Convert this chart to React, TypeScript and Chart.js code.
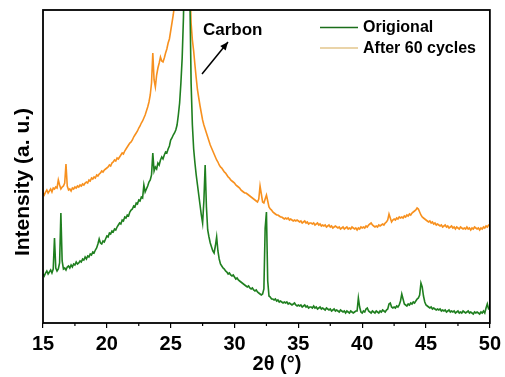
import React, { useEffect, useRef } from "react";
import { Chart, registerables } from "chart.js";

Chart.register(...registerables);

// 2θ sampling grid (degrees)
const angleStart = 15;
const angleStep = 0.1;
const angleCount = 351;

// Intensity (a.u.) — "Origional"
const originalIntensity = [
  49, 47, 50, 52, 49, 51, 53, 50, 54, 85,
  55, 52, 54, 60, 110, 62, 54, 55, 53, 56,
  57, 55, 58, 56, 59, 58, 61, 59, 60, 62,
  61, 64, 63, 66, 64, 67, 66, 69, 68, 71,
  70, 73, 75, 79, 84, 80, 79, 82, 81, 84,
  87, 86, 90, 89, 92, 91, 94, 93, 96, 98,
  100, 99, 103, 102, 106, 105, 108, 107, 111, 113,
  114, 117, 116, 120, 119, 123, 122, 126, 125, 138,
  131, 134, 137, 141, 143, 148, 170, 152, 156, 154,
  160, 158, 163, 166, 164, 168, 171, 170, 174, 177,
  183, 185, 188, 190, 193, 198, 208, 220, 240, 265,
  305, 370, 420, 440, 410, 330, 240, 198, 174, 160,
  148, 138, 128, 118, 108, 100, 122, 158, 116, 93,
  86, 80, 76, 72, 70, 77, 86, 72, 64, 59,
  57, 55, 54, 52, 51, 49, 50, 48, 47, 48,
  46, 44, 45, 43, 42, 41, 40, 39, 38, 37,
  36, 37, 35, 34, 35, 33, 32, 33, 31, 30,
  29, 28, 29, 34, 95, 111, 42, 27, 26, 24,
  24, 23, 24, 22, 23, 21, 22, 21, 20, 21,
  20, 21, 19, 20, 19, 18, 19, 20, 18, 17,
  18, 17, 18, 16, 17, 18, 16, 17, 15, 16,
  16, 15, 17, 15, 16, 14, 15, 16, 14, 15,
  14, 13, 15, 14, 13, 14, 12, 13, 14, 12,
  13, 12, 11, 13, 12, 11, 12, 10, 12, 11,
  10, 12, 11, 10, 11, 12, 12, 25, 16, 11,
  10, 12, 11, 14, 15, 12, 11, 10, 12, 11,
  10, 12, 11, 10, 12, 11, 13, 12, 11, 13,
  14, 19, 20, 16, 15, 16, 15, 17, 16, 18,
  22, 29, 24, 19, 18, 17, 19, 18, 20, 19,
  21, 20, 22, 24, 25, 28, 40, 36, 27, 21,
  18, 17, 16, 15, 16, 14, 15, 14, 13, 14,
  13, 14, 12, 13, 12, 13, 11, 12, 13, 11,
  12, 11, 12, 10, 11, 12, 10, 11, 10, 12,
  11, 10, 11, 12, 10, 11, 10, 9, 11, 10,
  11, 10, 9, 11, 10, 12, 10, 15, 19, 14,
  14,
];

// Intensity (a.u.) — "After 60 cycles"
const cycledIntensity = [
  130, 128, 131, 133, 130, 132, 134, 131, 135, 134,
  136, 135, 143, 138, 134, 136, 137, 140, 159, 137,
  133, 134, 132, 135, 134, 136, 135, 137, 136, 138,
  137, 139, 138, 140, 141, 140, 143, 142, 145, 144,
  146, 145, 148, 147, 149, 150, 152, 151, 153, 154,
  155, 156, 158, 157, 160, 161, 163, 162, 165, 164,
  166, 168, 170, 169, 172, 174, 176, 178, 180, 181,
  183, 186, 188, 190, 192, 195, 197, 200, 202, 205,
  208, 212, 216, 221, 228, 240, 270, 243, 236, 248,
  255, 260, 266, 262, 261, 265, 270, 274, 280, 284,
  292, 300, 308, 318, 335, 360, 385, 410, 430, 450,
  465, 475, 480, 470, 430, 340, 300, 283, 272, 258,
  245, 233, 225, 217, 210, 203, 198, 194, 190, 186,
  182, 178, 175, 172, 169, 166, 163, 161, 158, 156,
  155, 153, 151, 150, 148, 146, 145, 143, 142, 141,
  140, 138, 137, 136, 135, 133, 132, 131, 130, 130,
  129, 128, 127, 126, 125, 124, 123, 122, 121, 124,
  137, 129, 121, 120, 124, 128, 122, 116, 114, 113,
  111, 110, 109, 108, 108, 107, 106, 106, 105, 104,
  105, 104, 105, 103, 104, 103, 102, 103, 102, 103,
  102, 101, 102, 100, 101, 102, 100, 101, 99, 100,
  100, 99, 100, 98, 99, 100, 98, 99, 97, 98,
  97, 98, 96, 97, 98, 96, 97, 95, 96, 97,
  96, 95, 96, 94, 95, 96, 94, 95, 96, 94,
  95, 94, 96, 95, 94, 95, 93, 95, 94, 96,
  95, 96, 95, 97, 96, 98, 99, 100, 98, 97,
  96, 97, 96, 98, 97, 98, 99, 98, 100, 101,
  103, 109, 105, 101, 103, 104, 103, 105, 104, 106,
  105, 106, 105, 107, 106, 108, 107, 109, 108, 110,
  111, 112, 113, 115, 114, 111, 108, 106, 105, 104,
  103, 102, 101, 102, 100, 101, 99, 100, 98, 99,
  98, 97, 98, 96, 97, 98, 96, 97, 95, 96,
  97, 95, 96, 94, 96, 95, 94, 96, 95, 94,
  95, 94, 96, 94, 95, 93, 95, 94, 96, 95,
  94, 95, 93, 95, 94, 96, 95, 97, 96, 98,
  98,
];

const seriesNames = ["Origional", "After 60 cycles"];
const xMin = 15;
const xMax = 50;
const xMajorStep = 5;
const xMinorTicks = [17.5, 22.5, 27.5, 32.5, 37.5, 42.5, 47.5];
const yMin = 0;
const yMax = 313;
const annotationText = "Carbon";
const xTitle = "2θ (°)";
const yTitle = "Intensity (a. u.)";

const GREEN = "#1f7f1f";
const ORANGE = "#f7901e";
const FONT = "'Liberation Sans', Arial, sans-serif";

const angles = Array.from({ length: angleCount }, (_, i) =>
  Number((angleStart + i * angleStep).toFixed(1))
);

const overlayPlugin = {
  id: "overlay",
  afterDraw(chart: any) {
    const { ctx, chartArea } = chart;
    const { left, right, top, bottom } = chartArea;
    const xs = chart.scales.x;
    ctx.save();
    // frame
    ctx.strokeStyle = "#000";
    ctx.lineWidth = 1.8;
    ctx.strokeRect(left, top, right - left, bottom - top);
    // minor ticks
    ctx.lineWidth = 1.2;
    ctx.beginPath();
    xMinorTicks.forEach((v) => {
      const px = xs.getPixelForValue(v);
      ctx.moveTo(px, bottom);
      ctx.lineTo(px, bottom + 3);
    });
    ctx.stroke();
    // x title
    ctx.fillStyle = "#000";
    ctx.font = `bold 20px ${FONT}`;
    ctx.textAlign = "center";
    ctx.textBaseline = "middle";
    ctx.fillText(xTitle, 277, 364);
    // y title
    ctx.save();
    ctx.translate(23, 182);
    ctx.rotate(-Math.PI / 2);
    ctx.font = `bold 21px ${FONT}`;
    ctx.fillText(yTitle, 0, 0);
    ctx.restore();
    // legend
    ctx.lineWidth = 1.5;
    ctx.strokeStyle = "#1a6e1a";
    ctx.beginPath();
    ctx.moveTo(320, 27.5);
    ctx.lineTo(358, 27.5);
    ctx.stroke();
    ctx.strokeStyle = "#e3c68c";
    ctx.beginPath();
    ctx.moveTo(320, 48);
    ctx.lineTo(358, 48);
    ctx.stroke();
    ctx.font = `bold 16px ${FONT}`;
    ctx.textAlign = "left";
    ctx.fillText(seriesNames[0], 363, 28);
    ctx.fillText(seriesNames[1], 363, 48.5);
    // Carbon annotation
    ctx.font = `bold 17px ${FONT}`;
    ctx.fillText(annotationText, 203, 30);
    const x1 = 202, y1 = 74, x2 = 228, y2 = 42;
    ctx.strokeStyle = "#000";
    ctx.lineWidth = 1.5;
    ctx.beginPath();
    ctx.moveTo(x1, y1);
    ctx.lineTo(x2, y2);
    ctx.stroke();
    const ang = Math.atan2(y2 - y1, x2 - x1);
    const hl = 8, hw = 3.5;
    ctx.beginPath();
    ctx.moveTo(x2, y2);
    ctx.lineTo(
      x2 - hl * Math.cos(ang) + hw * Math.sin(ang),
      y2 - hl * Math.sin(ang) - hw * Math.cos(ang)
    );
    ctx.lineTo(
      x2 - hl * Math.cos(ang) - hw * Math.sin(ang),
      y2 - hl * Math.sin(ang) + hw * Math.cos(ang)
    );
    ctx.closePath();
    ctx.fillStyle = "#000";
    ctx.fill();
    ctx.restore();
  },
};

export default function App() {
  const ref = useRef<HTMLCanvasElement | null>(null);
  useEffect(() => {
    if (!ref.current) return;
    const chart = new Chart(ref.current, {
      type: "line",
      data: {
        datasets: [
          {
            label: seriesNames[0],
            data: angles.map((a, i) => ({ x: a, y: originalIntensity[i] })),
            borderColor: GREEN,
            borderWidth: 1.6,
            pointRadius: 0,
            tension: 0,
            clip: 0,
          },
          {
            label: seriesNames[1],
            data: angles.map((a, i) => ({ x: a, y: cycledIntensity[i] })),
            borderColor: ORANGE,
            borderWidth: 1.6,
            pointRadius: 0,
            tension: 0,
            clip: 0,
          },
        ],
      },
      options: {
        responsive: false,
        animation: false,
        layout: { padding: { left: 43, right: 15, top: 10, bottom: 0 } },
        plugins: {
          legend: { display: false },
          tooltip: { enabled: false },
        },
        scales: {
          x: {
            type: "linear",
            min: xMin,
            max: xMax,
            afterFit: (scale: any) => {
              scale.height = 54;
            },
            border: { display: false },
            grid: {
              drawOnChartArea: false,
              drawTicks: true,
              tickLength: 5,
              color: "#000",
              lineWidth: 1.2,
            },
            ticks: {
              stepSize: xMajorStep,
              color: "#000",
              padding: 4,
              maxRotation: 0,
              font: { family: FONT, size: 20, weight: "bold" },
            },
          },
          y: {
            display: false,
            min: yMin,
            max: yMax,
          },
        },
      },
      plugins: [overlayPlugin],
    });
    return () => chart.destroy();
  }, []);
  return (
    <div style={{ position: "fixed", left: 0, top: 0, width: 505, height: 377, background: "#fff" }}>
      <canvas ref={ref} width={505} height={377} />
    </div>
  );
}
